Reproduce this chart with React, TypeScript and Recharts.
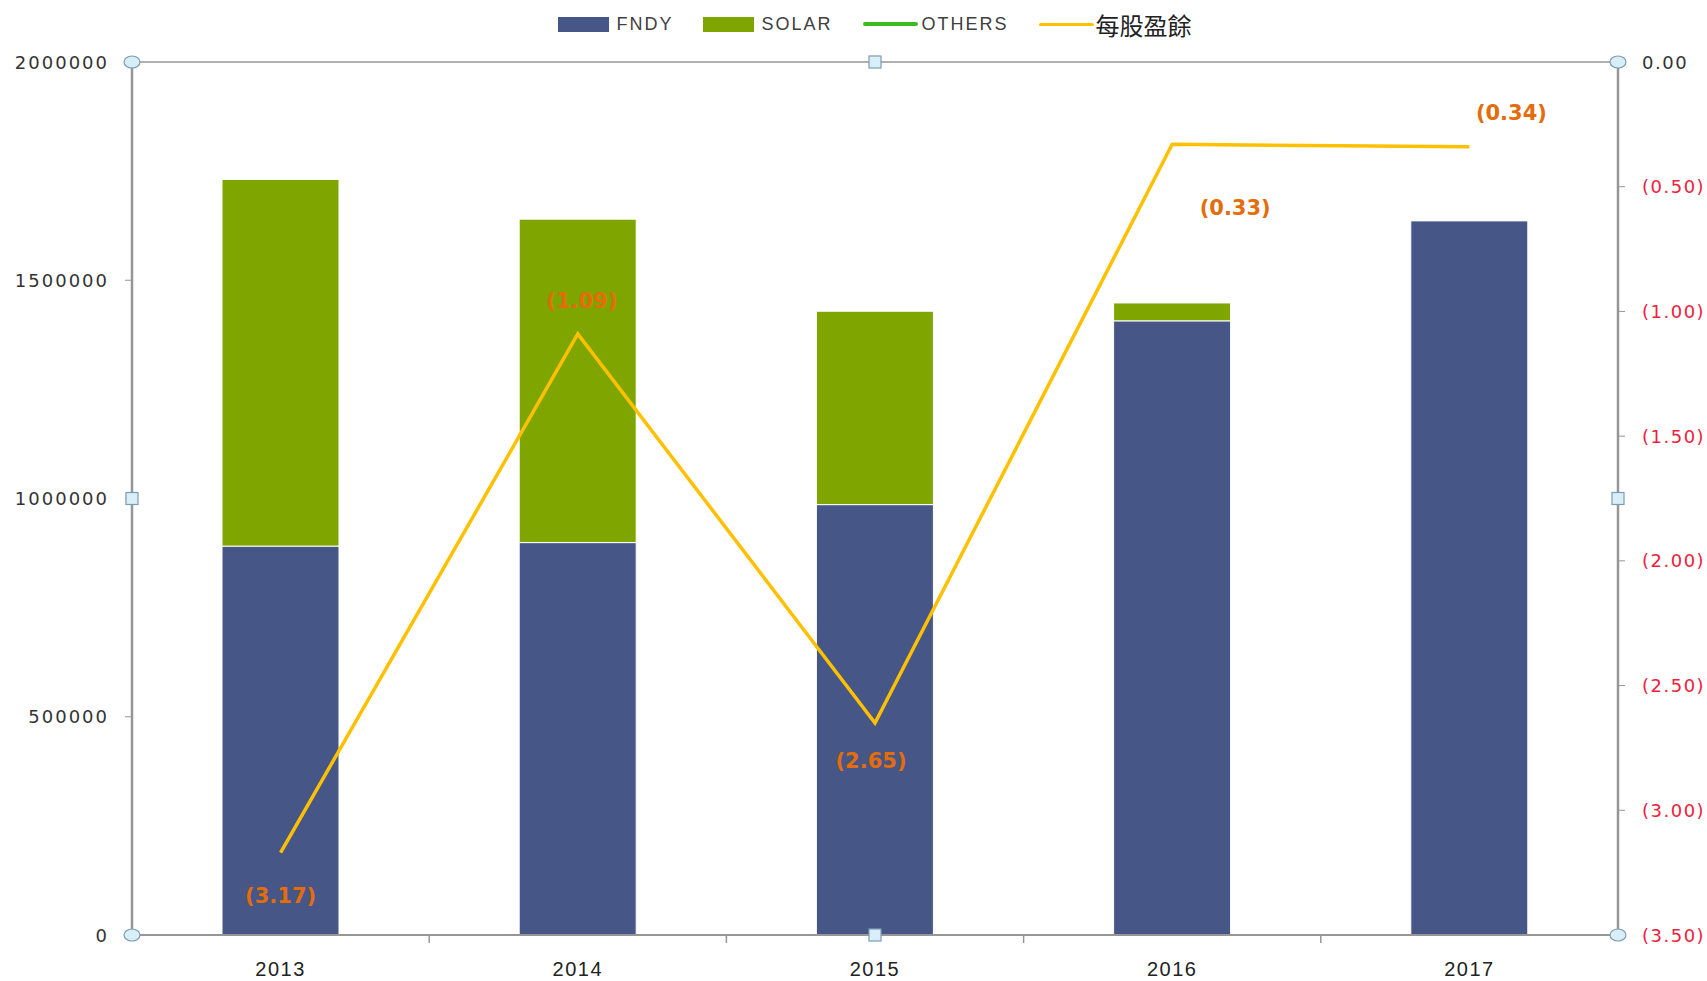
import { ComposedChart, Bar, Line, XAxis, YAxis, Legend, LabelList, ReferenceLine } from 'recharts'

// values
const YEARS = ['2013', '2014', '2015', '2016', '2017']
const FNDY = [891000, 899000, 986000, 1407000, 1636000]
const SOLAR = [840000, 741000, 443000, 41000, 0]
const OTHERS: (number | null)[] = [null, null, null, null, null]
const EPS = [-3.17, -1.09, -2.65, -0.33, -0.34] // 每股盈餘 (losses, shown in parentheses)

const LEFT_TICKS = [0, 500000, 1000000, 1500000, 2000000]
const RIGHT_TICKS = [0, -0.5, -1, -1.5, -2, -2.5, -3, -3.5]
const LEGEND_ORDER = ['FNDY', 'SOLAR', 'OTHERS', '每股盈餘']

// layout
const W = 1707
const H = 981
const PLOT = { left: 132, top: 62, right: 1618, bottom: 935 }
const BAND = (PLOT.right - PLOT.left) / YEARS.length

// where each EPS label sits relative to its point
const LABEL_OFFSETS = [
  [0, 43],
  [4, -33],
  [-4, 38],
  [63, 64],
  [42, -34],
]

const COLORS = {
  fndy: '#465686',
  solar: '#7FA500',
  others: '#3DBB1C',
  eps: '#FFC000',
  label: '#E46C0A',
  axis: '#969696',
  negTick: '#F0203C',
}

const chartData = YEARS.map((year, i) => ({
  year,
  FNDY: FNDY[i],
  SOLAR: SOLAR[i],
  OTHERS: OTHERS[i],
  EPS: EPS[i],
}))

const fmtEps = (v: number) => (v === 0 ? '0.00' : `(${Math.abs(v).toFixed(2)})`)

function LeftTick({ x, y, payload }: any) {
  return (
    <text x={x} y={y} textAnchor="end" dominantBaseline="central" fontSize={18} letterSpacing={2}
      fontFamily="DejaVu Sans" fill="#333">
      {payload.value}
    </text>
  )
}

function RightTick({ x, y, payload }: any) {
  const v = payload.value as number
  return (
    <text x={x} y={y} textAnchor="start" dominantBaseline="central" fontSize={18} letterSpacing={1.5}
      fontFamily="DejaVu Sans" fill={v === 0 ? '#333' : COLORS.negTick}>
      {fmtEps(v)}
    </text>
  )
}

function YearTick({ x, y, payload, index }: any) {
  const edge = x + BAND / 2
  return (
    <g>
      {index < YEARS.length - 1 && (
        <line x1={edge} x2={edge} y1={PLOT.bottom} y2={PLOT.bottom + 8} stroke={COLORS.axis} strokeWidth={1.5} />
      )}
      <text x={x} y={y} textAnchor="middle" dominantBaseline="central" fontSize={20} letterSpacing={1.5}
        fontFamily="Liberation Sans" fill="#222">
        {payload.value}
      </text>
    </g>
  )
}

function EpsLabel(props: any) {
  const { x, y, value, index } = props
  const [dx, dy] = LABEL_OFFSETS[index] ?? [0, 0]
  return (
    <text x={x + dx} y={y + dy} textAnchor="middle" dominantBaseline="central" fontSize={21}
      fontWeight="bold" fontFamily="DejaVu Sans" fill={COLORS.label}>
      {fmtEps(value)}
    </text>
  )
}

function LegendRow({ payload }: any) {
  const items = [...(payload || [])].sort(
    (a: any, b: any) => LEGEND_ORDER.indexOf(a.value) - LEGEND_ORDER.indexOf(b.value),
  )
  return (
    <div style={{ display: 'flex', justifyContent: 'center', alignItems: 'center', height: 48 }}>
      {items.map((item: any, i: number) => {
        const isLine = item.type === 'line'
        const cjk = /[^\x00-\x7f]/.test(item.value)
        return (
          <div key={i} style={{ display: 'flex', alignItems: 'center', marginRight: i < items.length - 1 ? 30 : 0 }}>
            {isLine ? (
              <div style={{
                width: 55, height: item.value === 'OTHERS' ? 4 : 3, borderRadius: 2,
                background: item.color, marginRight: cjk ? 2 : 4,
              }} />
            ) : (
              <div style={{ width: 51, height: 15, background: item.color, marginRight: 7 }} />
            )}
            <span style={{
              fontFamily: cjk ? '"Noto Sans CJK TC"' : 'Liberation Sans',
              fontSize: cjk ? 24 : 18,
              letterSpacing: cjk ? 0 : 2,
              color: cjk ? '#222' : '#404040',
            }}>
              {item.value}
            </span>
          </div>
        )
      })}
    </div>
  )
}

// the little selection handles on the plot frame
function Handles() {
  const midX = (PLOT.left + PLOT.right) / 2
  const midY = (PLOT.top + PLOT.bottom) / 2
  const fill = '#d9eff7'
  const stroke = '#7d9bb5'
  const corners = [
    [PLOT.left, PLOT.top], [PLOT.right, PLOT.top],
    [PLOT.left, PLOT.bottom], [PLOT.right, PLOT.bottom],
  ]
  const squares = [
    [PLOT.left, midY], [PLOT.right, midY], [midX, PLOT.top], [midX, PLOT.bottom],
  ]
  return (
    <svg width={W} height={H} style={{ position: 'absolute', left: 0, top: 0, pointerEvents: 'none' }}>
      {corners.map(([cx, cy], i) => (
        <ellipse key={'c' + i} cx={cx} cy={cy} rx={8} ry={6} fill={fill} stroke={stroke} strokeWidth={1.2} />
      ))}
      {squares.map(([cx, cy], i) => (
        <rect key={'s' + i} x={cx - 6} y={cy - 6} width={12} height={12} fill={fill} stroke={stroke} strokeWidth={1.2} />
      ))}
    </svg>
  )
}

export default function App() {
  return (
    <div style={{ position: 'absolute', left: 0, top: 0, width: W, height: H, background: '#fff' }}>
      <ComposedChart
        width={W}
        height={H}
        data={chartData}
        margin={{ top: PLOT.top, right: 0, left: 0, bottom: 0 }}
        barSize={117}
      >
        <XAxis
          dataKey="year"
          height={H - PLOT.bottom}
          tick={<YearTick />}
          tickLine={false}
          tickSize={6}
          tickMargin={28}
          axisLine={{ stroke: COLORS.axis, strokeWidth: 2 }}
          interval={0}
        />
        <YAxis
          yAxisId="left"
          width={PLOT.left}
          domain={[0, 2000000]}
          ticks={LEFT_TICKS}
          tick={<LeftTick />}
          tickSize={7}
          tickMargin={16}
          tickLine={{ stroke: COLORS.axis }}
          axisLine={{ stroke: COLORS.axis, strokeWidth: 2.5 }}
        />
        <YAxis
          yAxisId="right"
          orientation="right"
          width={W - PLOT.right}
          domain={[-3.5, 0]}
          ticks={RIGHT_TICKS}
          tick={<RightTick />}
          tickSize={7}
          tickMargin={17}
          tickLine={{ stroke: COLORS.axis }}
          axisLine={{ stroke: COLORS.axis, strokeWidth: 2.5 }}
        />
        <ReferenceLine yAxisId="left" y={2000000} stroke={COLORS.axis} strokeWidth={1.5} />
        <Legend
          verticalAlign="middle"
          align="center"
          content={<LegendRow />}
          wrapperStyle={{ top: 0, left: PLOT.left, width: PLOT.right - PLOT.left, height: 48 }}
        />
        <Bar dataKey="FNDY" name="FNDY" yAxisId="left" stackId="a" fill={COLORS.fndy}
          stroke="#ffffff" strokeWidth={1} legendType="rect" isAnimationActive={false} />
        <Bar dataKey="SOLAR" name="SOLAR" yAxisId="left" stackId="a" fill={COLORS.solar}
          stroke="#ffffff" strokeWidth={1} legendType="rect" isAnimationActive={false} />
        <Line dataKey="OTHERS" name="OTHERS" yAxisId="left" stroke={COLORS.others} strokeWidth={4}
          dot={false} legendType="line" isAnimationActive={false} />
        <Line dataKey="EPS" name="每股盈餘" yAxisId="right" stroke={COLORS.eps} strokeWidth={3.5}
          dot={false} legendType="line" isAnimationActive={false}>
          <LabelList dataKey="EPS" content={<EpsLabel />} />
        </Line>
      </ComposedChart>
      <Handles />
    </div>
  )
}
